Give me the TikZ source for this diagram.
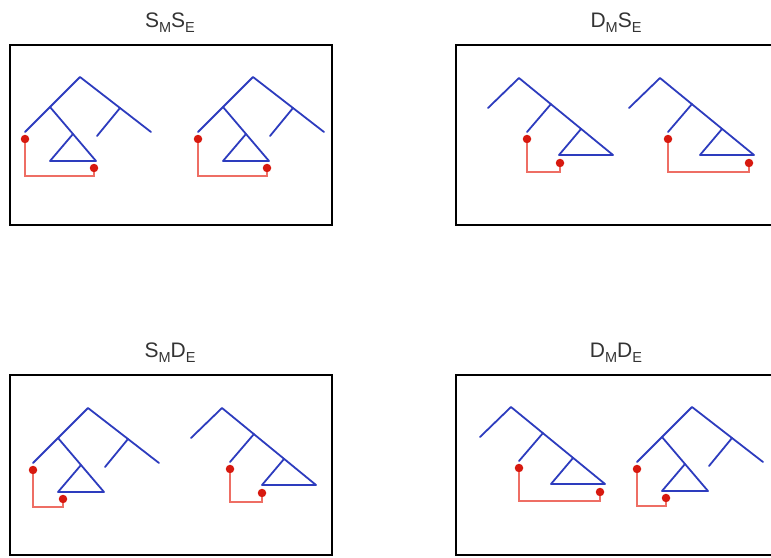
\documentclass[tikz,border=0pt]{standalone}
\usepackage{fontspec}
\setmainfont{Liberation Sans}
\usepackage{tikz}
\usetikzlibrary{positioning}

\definecolor{treeblue}{RGB}{45,60,190}
\definecolor{dotred}{RGB}{215,25,15}
\definecolor{linkred}{RGB}{238,110,100}

\newcommand{\sub}[1]{\raisebox{-5pt}{\fontsize{14.5}{15}\selectfont #1}}

\begin{document}
\begin{tikzpicture}[
  x=1pt, y=-1pt,
  title/.style={font=\fontsize{21}{22}\selectfont, text=black!80, anchor=base, inner sep=0pt},
  frame/.style={draw, line width=1.8pt, minimum width=322pt, minimum height=180pt, inner sep=0pt},
  branch/.style={draw=treeblue, line width=1.8pt, line cap=round, line join=round},
  dot/.style={circle, fill=dotred, inner sep=0pt, minimum size=8.5pt},
  link/.style={draw=linkred, line width=1.4pt},
  pics/balanced/.style={code={
    \coordinate (-r)  at (0,0);
    \coordinate (-ln) at (-30,30);
    \coordinate (-ll) at (-55,55);
    \coordinate (-rn) at (40,31);
    \coordinate (-rb) at (17,59);
    \coordinate (-rl) at (71,55);
    \coordinate (-ta) at (-7,57);
    \coordinate (-tl) at (-30,84);
    \coordinate (-tr) at (16,84);
    \draw[branch] (-ll) -- (-r) -- (-rl);
    \draw[branch] (-rn) -- (-rb);
    \draw[branch] (-ln) -- (-tr) -- (-tl) -- (-ta);
    \node[dot] (-a) at (-55,62) {};
    \node[dot] (-b) at (#1,91) {};
    \coordinate (-low) at (-55,99);
    \draw[link] (-a) -- (-low) -| (-b);
  }},
  pics/caterpillar/.style={code={
    \coordinate (-r)  at (0,0);
    \coordinate (-ll) at (-31,30);
    \coordinate (-n1) at (32,26);
    \coordinate (-b1) at (8,54);
    \coordinate (-n2) at (62,51);
    \coordinate (-bl) at (40,77);
    \coordinate (-br) at (94,77);
    \draw[branch] (-ll) -- (-r) -- (-br) -- (-bl) -- (-n2);
    \draw[branch] (-n1) -- (-b1);
    \node[dot] (-a) at (8,61) {};
    \node[dot] (-b) at (#1,85) {};
    \coordinate (-low) at (8,94);
    \draw[link] (-a) -- (-low) -| (-b);
  }},
]
  \useasboundingbox (0,0) rectangle (771,557);
  \clip (0,0) rectangle (771,557);

  % panels
  \node[frame] (ss) at (171,135) {};
  \node[frame] (ds) at (617,135) {};
  \node[frame] (sd) at (171,465) {};
  \node[frame] (dd) at (617,465) {};

  \node[title] (ssT) at (170,27)  {S\sub{M}S\sub{E}};
  \node[title] (dsT) at (616,27)  {D\sub{M}S\sub{E}};
  \node[title] (sdT) at (170,357) {S\sub{M}D\sub{E}};
  \node[title] (ddT) at (616,357) {D\sub{M}D\sub{E}};

  % trees
  \pic (t1) at (80,77)   {balanced=14};
  \pic (t2) at (253,77)  {balanced=14};
  \pic (t3) at (519,78)  {caterpillar=41};
  \pic (t4) at (660,78)  {caterpillar=89};
  \pic (t5) at (88,408)  {balanced=-25};
  \pic (t6) at (222,408) {caterpillar=40};
  \pic (t7) at (511,407) {caterpillar=89};
  \pic (t8) at (692,407) {balanced=-26};
\end{tikzpicture}
\end{document}
